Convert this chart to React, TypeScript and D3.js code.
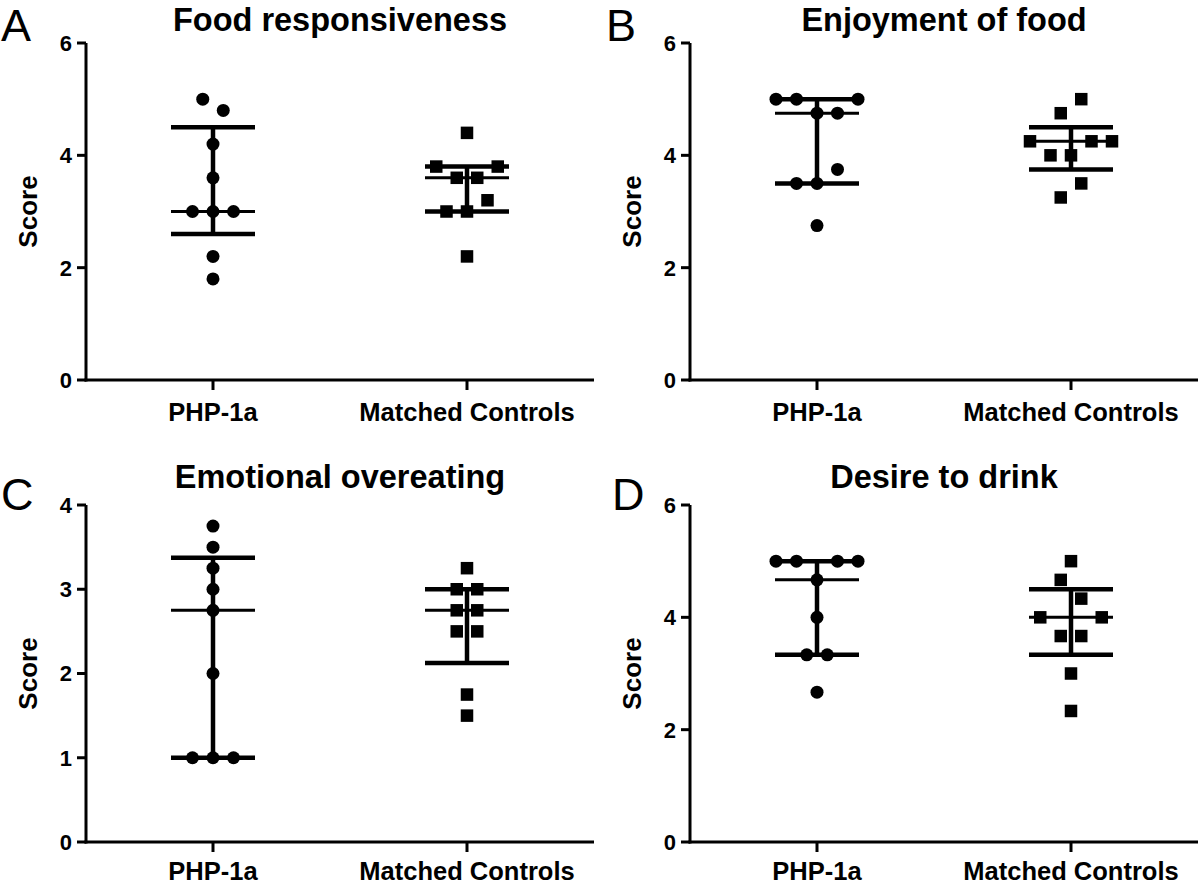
import React from "react";
import * as d3 from "d3";

// ---------- data ----------
const CATEGORIES = ["PHP-1a", "Matched Controls"];
const PANEL_LETTERS = ["A", "B", "C", "D"];
const PANEL_TITLES = ["Food responsiveness", "Enjoyment of food", "Emotional overeating", "Desire to drink"];
const Y_AXIS_LABEL = "Score";
const Y_MAXES = [6, 6, 4, 6];
const Y_TICKS_6 = [0, 2, 4, 6];
const Y_TICKS_4 = [0, 1, 2, 3, 4];

// values listed in subject order (order decides left/right placement among overlapping points)
const FOOD_RESP_PHP = [5.0, 4.8, 4.2, 3.6, 3.0, 3.0, 3.0, 2.2, 1.8];
const FOOD_RESP_MC = [4.4, 3.8, 3.6, 3.6, 3.8, 3.0, 3.0, 3.2, 2.2];
const ENJOY_PHP = [5.0, 5.0, 4.75, 4.75, 5.0, 3.5, 3.5, 3.75, 2.75];
const ENJOY_MC = [4.75, 5.0, 4.25, 4.0, 4.0, 4.25, 4.25, 3.25, 3.5];
const EMO_PHP = [3.75, 3.5, 3.25, 3.0, 2.75, 2.0, 1.0, 1.0, 1.0];
const EMO_MC = [3.25, 3.0, 3.0, 2.75, 2.75, 2.5, 2.5, 1.75, 1.5];
const DRINK_PHP = [5.0, 5.0, 4.667, 5.0, 5.0, 4.0, 3.333, 3.333, 2.667];
const DRINK_MC = [5.0, 4.667, 4.333, 4.0, 3.667, 3.667, 4.0, 3.0, 2.333];

const PANEL_DATA = [
  [FOOD_RESP_PHP, FOOD_RESP_MC],
  [ENJOY_PHP, ENJOY_MC],
  [EMO_PHP, EMO_MC],
  [DRINK_PHP, DRINK_MC],
];
const PANEL_TICKS = [Y_TICKS_6, Y_TICKS_6, Y_TICKS_4, Y_TICKS_6];

// ---------- helpers ----------
function quartiles(vals: number[]) {
  const s = [...vals].sort((a, b) => a - b);
  const n = s.length;
  const half = Math.floor(n / 2);
  return {
    q1: d3.median(s.slice(0, half)) as number,
    med: d3.median(s) as number,
    q3: d3.median(s.slice(n - half)) as number,
  };
}

// scatter-dot layout: points whose pixel y lie within `thr` of a group's lowest point
// are spread horizontally, in data order, `slot` px apart.
function swarmOffsets(vals: number[], y: (v: number) => number, thr: number, slot: number) {
  const n = vals.length;
  const idx = vals.map((_, i) => i).sort((a, b) => vals[a] - vals[b] || a - b);
  const off = new Array(n).fill(0);
  let i = 0;
  while (i < n) {
    const start = y(vals[idx[i]]);
    const group: number[] = [];
    let j = i;
    while (j < n && Math.abs(y(vals[idx[j]]) - start) < thr) {
      group.push(idx[j]);
      j++;
    }
    group.sort((a, b) => a - b);
    group.forEach((g, k) => (off[g] = (k - (group.length - 1) / 2) * slot));
    i = j;
  }
  return off;
}

const FONT = "'Liberation Sans', Arial, Helvetica, sans-serif";

type PanelProps = {
  i: number;
  axisX: number;
  top: number;
  bottom: number;
  width: number;
  titleY: number;
  letterX: number;
  letterY: number;
  labelDy: number;
};

function Panel({ i, axisX, top, bottom, width, titleY, letterX, letterY, labelDy }: PanelProps) {
  const yMax = Y_MAXES[i];
  const y = d3.scaleLinear().domain([0, yMax]).range([bottom, top]);
  const x = d3.scalePoint<string>().domain(CATEGORIES).range([axisX, axisX + width]).padding(0.5);
  const ticks = PANEL_TICKS[i];
  const capHalf = 42;
  const R = 6.5;
  const SQ = 12.5;

  return (
    <g>
      <text x={letterX} y={letterY} fontFamily={FONT} fontSize={45} fill="#000">
        {PANEL_LETTERS[i]}
      </text>
      <text
        x={axisX + width / 2}
        y={titleY}
        textAnchor="middle"
        fontFamily={FONT}
        fontWeight="bold"
        fontSize={32.5}
        fill="#000"
      >
        {PANEL_TITLES[i]}
      </text>
      {/* y axis */}
      <line x1={axisX} x2={axisX} y1={bottom + 1.5} y2={top} stroke="#000" strokeWidth={3} />
      {ticks.map((t) => (
        <g key={t}>
          <line x1={axisX - 9} x2={axisX} y1={y(t)} y2={y(t)} stroke="#000" strokeWidth={3} />
          <text
            x={axisX - 14}
            y={y(t)}
            dy="0.36em"
            textAnchor="end"
            fontFamily={FONT}
            fontWeight="bold"
            fontSize={22}
            fill="#000"
          >
            {t}
          </text>
        </g>
      ))}
      <text
        transform={`translate(${axisX - 49},${(top + bottom) / 2}) rotate(-90)`}
        textAnchor="middle"
        fontFamily={FONT}
        fontWeight="bold"
        fontSize={26}
        fill="#000"
      >
        {Y_AXIS_LABEL}
      </text>
      {/* x axis */}
      <line x1={axisX - 1.5} x2={axisX + width} y1={bottom} y2={bottom} stroke="#000" strokeWidth={3} />
      {CATEGORIES.map((c) => (
        <g key={c}>
          <line x1={x(c)} x2={x(c)} y1={bottom} y2={bottom + 10} stroke="#000" strokeWidth={3} />
          <text
            x={x(c)}
            y={bottom + labelDy}
            textAnchor="middle"
            fontFamily={FONT}
            fontWeight="bold"
            fontSize={25.5}
            fill="#000"
          >
            {c}
          </text>
        </g>
      ))}
      {/* data */}
      {CATEGORIES.map((c, ci) => {
        const vals = PANEL_DATA[i][ci];
        const cx = x(c) as number;
        const off = swarmOffsets(vals, y, 20, 20.5);
        const q = quartiles(vals);
        return (
          <g key={c}>
            {vals.map((v, k) =>
              ci === 0 ? (
                <circle key={k} cx={cx + off[k]} cy={y(v)} r={R} fill="#000" />
              ) : (
                <rect key={k} x={cx + off[k] - SQ / 2} y={y(v) - SQ / 2} width={SQ} height={SQ} fill="#000" />
              )
            )}
            <line x1={cx} x2={cx} y1={y(q.q1)} y2={y(q.q3)} stroke="#000" strokeWidth={4.5} />
            <line x1={cx - capHalf} x2={cx + capHalf} y1={y(q.q1)} y2={y(q.q1)} stroke="#000" strokeWidth={4.5} />
            <line x1={cx - capHalf} x2={cx + capHalf} y1={y(q.q3)} y2={y(q.q3)} stroke="#000" strokeWidth={4.5} />
            <line x1={cx - capHalf} x2={cx + capHalf} y1={y(q.med)} y2={y(q.med)} stroke="#000" strokeWidth={3} />
          </g>
        );
      })}
    </g>
  );
}

export default function App() {
  const panels = [
    { axisX: 86, top: 43, bottom: 380, titleY: 31, letterX: 1, letterY: 41, labelDy: 41 },
    { axisX: 690, top: 43, bottom: 380, titleY: 31, letterX: 606, letterY: 41, labelDy: 41 },
    { axisX: 86, top: 505, bottom: 842, titleY: 488, letterX: 1, letterY: 510, labelDy: 38 },
    { axisX: 690, top: 505, bottom: 842, titleY: 488, letterX: 612, letterY: 510, labelDy: 38 },
  ];
  return (
    <svg
      width={1200}
      height={886}
      viewBox="0 0 1200 886"
      style={{ position: "absolute", left: 0, top: 0, background: "#fff" }}
    >
      <rect x={0} y={0} width={1200} height={886} fill="#fff" />
      {panels.map((p, i) => (
        <Panel key={i} i={i} width={508} {...p} />
      ))}
    </svg>
  );
}
